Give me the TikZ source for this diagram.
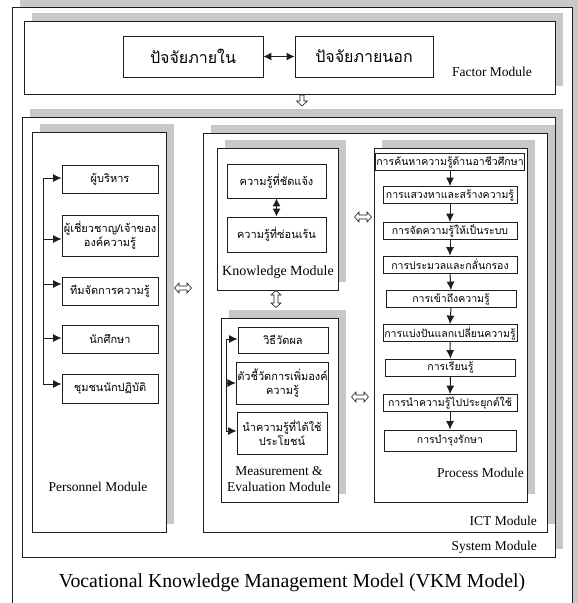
\documentclass[tikz,border=0pt]{standalone}
\usepackage{fontspec}
\setmainfont{Liberation Serif}
\newfontfamily\thai[Script=Thai]{Loma}
\usetikzlibrary{arrows.meta}
\definecolor{shgray}{RGB}{200,200,200}
\definecolor{ln}{RGB}{30,30,30}
\newcommand\shrect[4]{\fill[shgray] (#1+8,#2-8) rectangle (#3+8,#4-8); \draw[frame] (#1,#2) rectangle (#3,#4);}
\begin{document}
\begin{tikzpicture}[x=1pt,y=-1pt,
  frame/.style={draw=ln,line width=0.8pt,fill=white},
  item/.style={draw=ln,line width=0.8pt,fill=white,inner sep=1pt,align=center,font=\thai\fontsize{11}{14}\selectfont},
  pitem/.style={item,minimum width=134pt,minimum height=17pt,font=\thai\fontsize{10.5}{12}\selectfont},
  bigitem/.style={item,minimum width=140pt,minimum height=41pt,font=\thai\fontsize{16}{20}\selectfont},
  lbl/.style={inner sep=0pt,font=\fontsize{13.5}{16}\selectfont,align=center},
  arr/.style={-{Latex[length=8.5pt,width=8pt]},line width=1pt,draw=ln},
  darr/.style={{Latex[length=8pt,width=8pt]}-{Latex[length=8pt,width=8pt]},line width=1pt,draw=ln},
  bus/.style={line width=1pt,draw=ln},
  hollow/.style={draw=ln,line width=0.6pt,fill=white,line join=miter},
  pics/hdarrow/.style={code={\draw[hollow] (-8.5,0) -- (-4,-5) -- (-4,-2) -- (4,-2) -- (4,-5) -- (8.5,0) -- (4,5) -- (4,2) -- (-4,2) -- (-4,5) -- cycle;}},
  pics/downarrow/.style={code={\draw[hollow] (-2,-6) -- (2,-6) -- (2,0) -- (5.5,0) -- (0,5) -- (-5.5,0) -- (-2,0) -- cycle;}}
]
\useasboundingbox (0,0) rectangle (578,603);
\clip (0,0) rectangle (578,603);
\fill[white] (0,0) rectangle (578,603);
% containers
\shrect{12}{7}{572}{615}
\shrect{24}{21}{555}{94}
\shrect{22}{117}{555}{557}
\shrect{32}{132}{166}{532}
\shrect{203}{133}{547}{532}
\shrect{217}{148}{338}{290}
\shrect{221}{318}{338}{502}
\shrect{374}{148}{527}{502}

% factor module
\node[bigitem] (f1) at (193,56.5) {ปัจจัยภายใน};
\node[bigitem,minimum width=138pt] (f2) at (364,56.5) {ปัจจัยภายนอก};
\draw[darr] (f1.east) -- (f2.west);
\node[lbl] (factorlbl) at (492,72) {Factor Module};
\pic at (302,101) {downarrow};

% personnel module
\node[item,minimum width=96pt,minimum height=28pt] (p1) at (110,179) {ผู้บริหาร};
\node[item,minimum width=96pt,minimum height=41pt] (p2) at (110,235.5) {ผู้เชี่ยวชาญ/เจ้าของ\\องค์ความรู้};
\node[item,minimum width=96pt,minimum height=28pt] (p3) at (110,291) {ทีมจัดการความรู้};
\node[item,minimum width=96pt,minimum height=28pt] (p4) at (110,339) {นักศึกษา};
\node[item,minimum width=96pt,minimum height=29pt] (p5) at (110,388.5) {ชุมชนนักปฏิบัติ};
\coordinate (b1) at (43,178);
\coordinate (b2) at (43,239);
\coordinate (b3) at (43,284);
\coordinate (b4) at (43,338);
\coordinate (b5) at (43,384);
\draw[bus] (b1) -- (b5);
\draw[arr] (b1) -- (b1 -| p1.west);
\draw[arr] (b2) -- (b2 -| p2.west);
\draw[arr] (b3) -- (b3 -| p3.west);
\draw[arr] (b4) -- (b4 -| p4.west);
\draw[arr] (b5) -- (b5 -| p5.west);
\node[lbl] (perslbl) at (98,487) {Personnel Module};
\pic at (183,288) {hdarrow};

% knowledge module
\node[item,minimum width=99pt,minimum height=34pt] (k1) at (276.5,181) {ความรู้ที่ชัดแจ้ง};
\node[item,minimum width=99pt,minimum height=35pt] (k2) at (276.5,234.5) {ความรู้ที่ซ่อนเร้น};
\draw[darr] (k1.south) -- (k2.north);
\node[lbl,font=\fontsize{14}{16}\selectfont] (knowlbl) at (278,272) {Knowledge Module};
\pic[rotate=90] at (276,299) {hdarrow};
\pic at (363,217) {hdarrow};

% measurement module
\node[item,minimum width=90pt,minimum height=26pt] (m1) at (283,340) {วิธีวัดผล};
\node[item,minimum width=91pt,minimum height=42pt] (m2) at (282.5,383) {ตัวชี้วัดการเพิ่มองค์\\ความรู้};
\node[item,minimum width=90pt,minimum height=42pt] (m3) at (282,433) {นำความรู้ที่ได้ใช้\\ประโยชน์};
\coordinate (c1) at (226,339);
\coordinate (c2) at (226,383);
\coordinate (c3) at (226,431);
\draw[bus] (c1) -- (c3);
\draw[arr] (c1) -- (c1 -| m1.west);
\draw[arr] (c2) -- (c2 -| m2.west);
\draw[arr] (c3) -- (c3 -| m3.west);
\node[lbl] (measlbl) at (279,479) {Measurement \&\\Evaluation Module};
\pic at (360,397) {hdarrow};

% process module
\node[pitem] (r1) at (450,162) {การค้นหาความรู้ด้านอาชีวศึกษา};
\node[pitem] (r2) at (450,195) {การแสวงหาและสร้างความรู้};
\node[pitem] (r3) at (450,231) {การจัดความรู้ให้เป็นระบบ};
\node[pitem] (r4) at (450,264.5) {การประมวลและกลั่นกรอง};
\node[pitem,minimum width=130pt] (r5) at (451,299) {การเข้าถึงความรู้};
\node[pitem] (r6) at (450,333) {การแบ่งปันแลกเปลี่ยนความรู้};
\node[pitem,minimum width=130pt] (r7) at (450.5,367.5) {การเรียนรู้};
\node[pitem] (r8) at (450,403) {การนำความรู้ไปประยุกต์ใช้};
\node[pitem,minimum width=132pt,minimum height=21pt] (r9) at (450,440.5) {การบำรุงรักษา};
\foreach \a/\b in {r1/r2,r2/r3,r3/r4,r4/r5,r5/r6,r6/r7,r7/r8,r8/r9}
  \draw[arr] (\a.south) -- (\b.north);
\node[lbl,anchor=east] (proclbl) at (524,473) {Process Module};

\node[lbl,anchor=east] (ictlbl) at (537,521) {ICT Module};
\node[lbl,anchor=east] (syslbl) at (537,547) {System Module};
\node[inner sep=0pt,font=\fontsize{19.8}{22}\selectfont] (title) at (292,583) {Vocational Knowledge Management Model (VKM Model)};
\end{tikzpicture}
\end{document}
